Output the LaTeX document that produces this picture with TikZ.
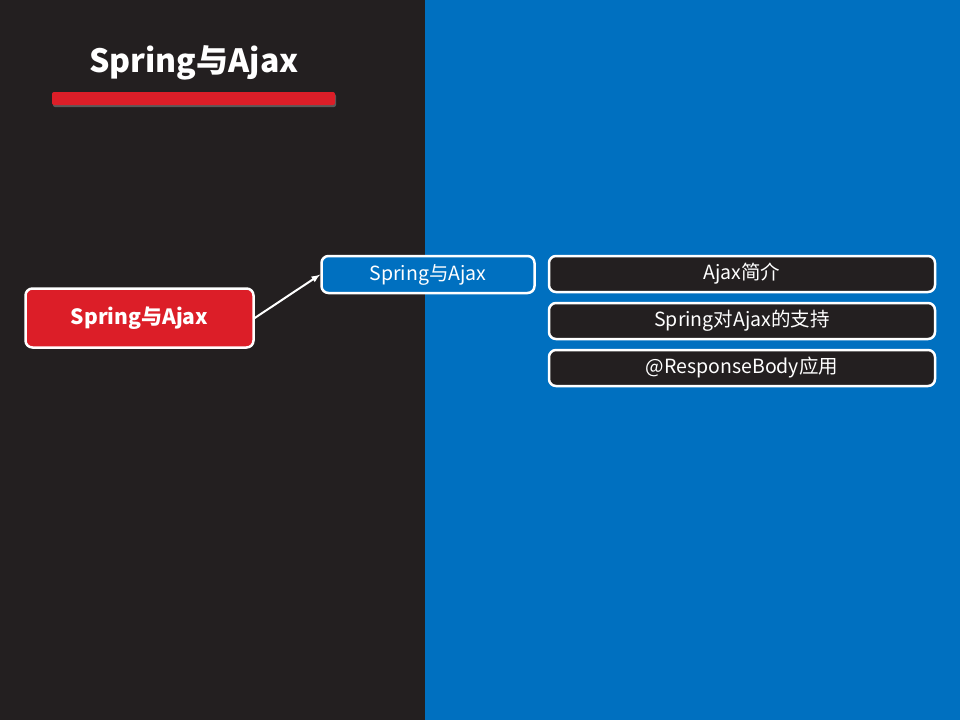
\documentclass[tikz,border=0pt]{standalone}
\usepackage{fontspec}
\setmainfont{Noto Sans CJK SC}
\usetikzlibrary{shadows}
\definecolor{darkbg}{HTML}{231F20}
\definecolor{bluebg}{HTML}{0070C0}
\definecolor{redbox}{HTML}{DC1E28}
\tikzset{
  topicbox/.style={draw=white, line width=2.5pt, rounded corners=7pt, text=white, inner sep=0pt},
  itembox/.style={topicbox, fill=darkbg, minimum width=386pt, minimum height=36pt, font=\fontsize{19.5}{22}\selectfont}
}
\begin{document}
\begin{tikzpicture}[>=latex, x=1pt, y=-1pt]
\useasboundingbox (0,0) rectangle (960,720);
\fill[darkbg] (0,0) rectangle (425,720);
\fill[bluebg] (425,0) rectangle (960,720);

\node[text=white, font=\fontsize{32}{36}\selectfont\bfseries] (title) at (194,63) {Spring与Ajax};
\fill[redbox, rounded corners=2pt, drop shadow={shadow xshift=1pt, shadow yshift=-2pt, opacity=.6}] (52,92) rectangle (335,105);

\node[topicbox, fill=redbox, minimum width=228pt, minimum height=59pt, font=\fontsize{21}{24}\selectfont\bfseries] (main) at (139.5,318) {Spring与Ajax};
\node[topicbox, fill=bluebg, minimum width=213pt, minimum height=37pt, font=\fontsize{19.5}{22}\selectfont] (sub) at (428,274.5) {Spring与Ajax};

\node[itembox] (intro) at (742,274) {Ajax简介};
\node[itembox] (support) at (742,321) {Spring对Ajax的支持};
\node[itembox] (body) at (742,368) {@ResponseBody应用};

\draw[->, white, line width=2pt] (main.east) -- (sub.west);
\end{tikzpicture}
\end{document}
